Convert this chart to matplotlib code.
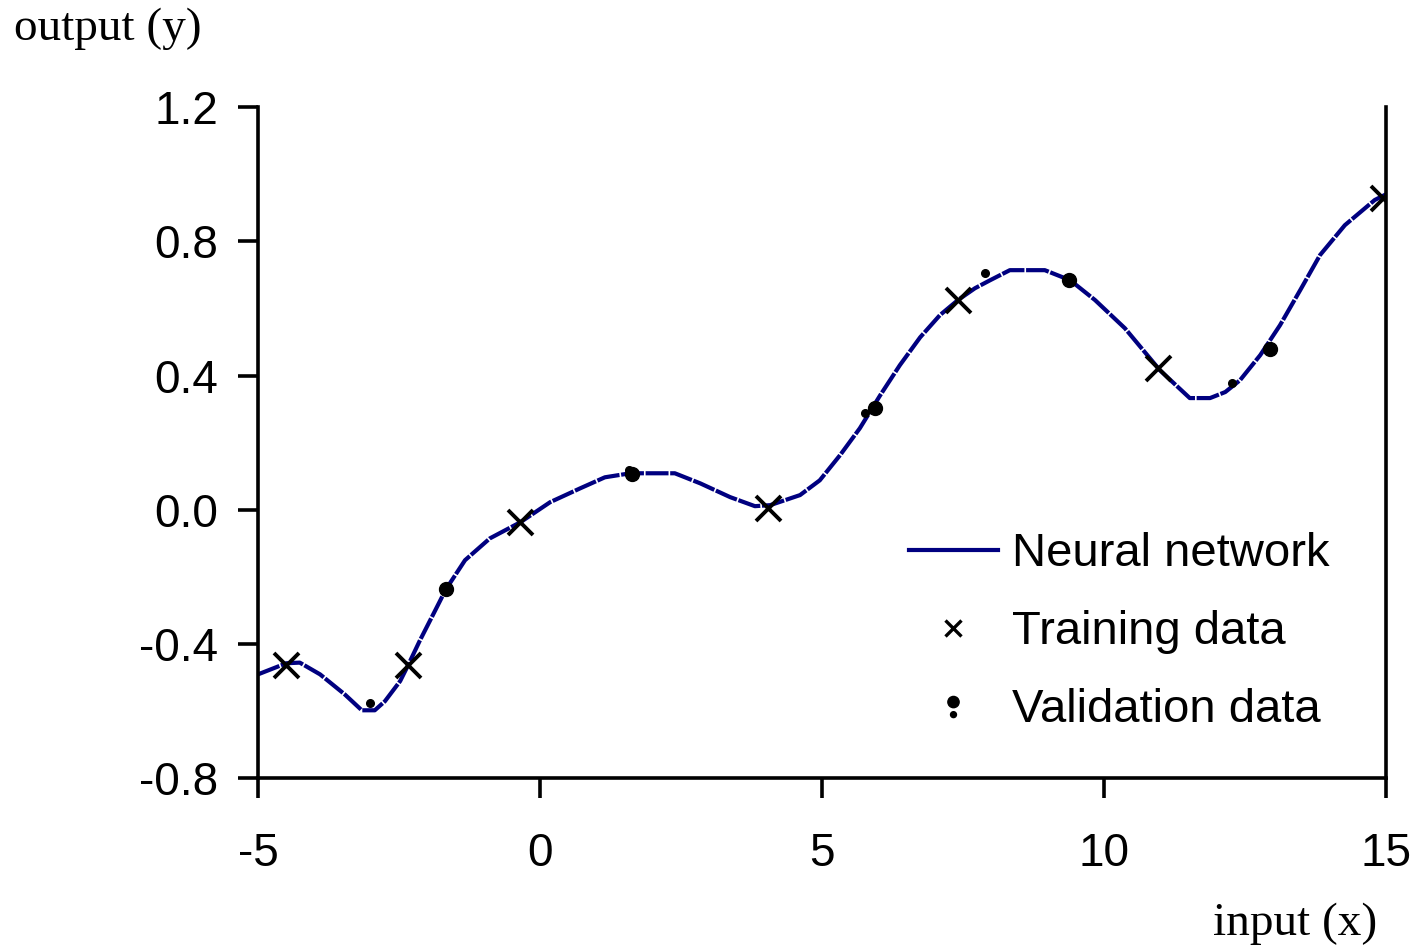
import matplotlib.pyplot as plt
from matplotlib.lines import Line2D
from matplotlib.path import Path

# Neural network curve
nn_x = [-5.0, -4.50, -4.26, -3.90, -3.46, -3.16, -2.93, -2.75, -2.48, -2.34, -2.13, -1.86,
        -1.67, -1.33, -0.89, -0.35, 0.18, 0.71, 1.15, 1.60, 2.39, 2.84, 3.37, 3.81, 4.08,
        4.61, 4.96, 5.32, 5.67, 6.03, 6.38, 6.74, 7.09, 7.41, 7.71, 7.98, 8.33, 8.95, 9.40,
        9.84, 10.37, 10.99, 11.52, 11.88, 12.15, 12.41, 12.77, 13.12, 13.48, 13.83, 14.27,
        14.80, 15.0]
nn_y = [-0.49, -0.457, -0.455, -0.49, -0.55, -0.597, -0.597, -0.57, -0.51, -0.463, -0.389,
        -0.30, -0.237, -0.15, -0.085, -0.037, 0.023, 0.064, 0.097, 0.109, 0.109, 0.079,
        0.038, 0.011, 0.014, 0.044, 0.088, 0.163, 0.243, 0.341, 0.431, 0.514, 0.58, 0.625,
        0.66, 0.684, 0.714, 0.714, 0.684, 0.625, 0.541, 0.416, 0.333, 0.333, 0.351, 0.386,
        0.461, 0.55, 0.655, 0.759, 0.848, 0.923, 0.94]

# Training data
train_x = [-4.50, -2.34, -0.35, 4.04, 7.41, 10.96, 14.95]
train_y = [-0.463, -0.463, -0.037, 0.005, 0.625, 0.422, 0.929]

# Validation data (large and small dots)
val_big_x = [-1.67, 1.63, 5.94, 9.38, 12.94]
val_big_y = [-0.237, 0.106, 0.303, 0.684, 0.479]
val_small_x = [-3.01, 1.58, 5.76, 7.89, 12.27]
val_small_y = [-0.576, 0.118, 0.288, 0.705, 0.377]

plt.rcParams['font.family'] = ['Liberation Sans', 'DejaVu Sans']
plt.rcParams['axes.unicode_minus'] = False

fig = plt.figure(figsize=(14.1, 9.47), dpi=100)
ax = fig.add_axes([0.183, 0.178, 0.800, 0.709])

navy = '#000080'
ax.plot(nn_x, nn_y, color=navy, lw=3.0, dashes=(5.5, 0.4), zorder=2)
ax.plot(train_x, train_y, 'x', color='black', ms=18, mew=2.8, zorder=3)
ax.plot(val_big_x, val_big_y, 'o', color='black', ms=10, zorder=3)
ax.plot(val_small_x, val_small_y, 'o', color='black', ms=5.5, zorder=3)

ax.set_xlim(-5, 15)
ax.set_ylim(-0.8, 1.2)
ax.set_xticks([-5, 0, 5, 10, 15])
ax.set_yticks([-0.8, -0.4, 0.0, 0.4, 0.8, 1.2])
ax.set_yticklabels(['-0.8', '-0.4', '0.0', '0.4', '0.8', '1.2'])

ax.spines['top'].set_visible(False)
for s in ['left', 'bottom', 'right']:
    ax.spines[s].set_linewidth(2.6)
ax.tick_params(direction='out', length=14.5, width=2.6, labelsize=33)
ax.tick_params(axis='y', pad=14)
ax.tick_params(axis='x', pad=24)

fig.text(0.010, 0.970, 'output (y)', family='Liberation Serif', fontsize=34,
         ha='left', va='center')
fig.text(0.977, 0.025, 'input (x)', family='Liberation Serif', fontsize=34,
         ha='right', va='center')

# legend marker for validation: big dot above a small dot
dot_pair = Path.make_compound_path(Path.circle((0, 0.3), 0.38), Path.circle((0, -0.55), 0.2))

handles = [
    Line2D([], [], color=navy, lw=3.0),
    Line2D([], [], marker='x', ls='none', color='black', ms=11, mew=2.4),
    Line2D([], [], marker=dot_pair, ls='none', color='black', ms=16),
]
ax.legend(handles, ['Neural network', 'Training data', 'Validation data'],
          loc='upper left', bbox_to_anchor=(0.56, 0.395), frameon=False,
          fontsize=34, handlelength=1.9, handletextpad=0.3, labelspacing=0.72,
          borderaxespad=0)

fig.savefig('out.png', dpi=100)
